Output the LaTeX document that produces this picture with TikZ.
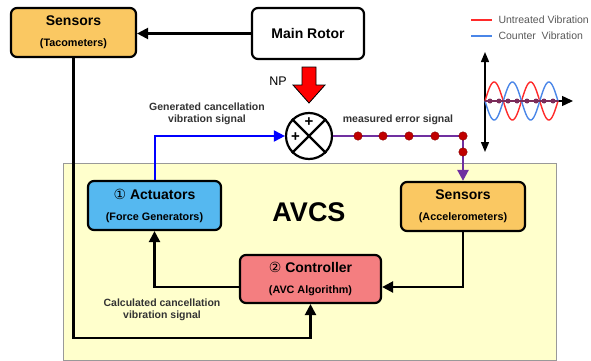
\documentclass[tikz,border=0pt]{standalone}
\usepackage{fontspec}
\setmainfont{Liberation Sans}
\newfontfamily\dvs{DejaVu Sans}
\usetikzlibrary{arrows.meta,calc}
\definecolor{tacfill}{HTML}{FAC862}
\definecolor{actfill}{HTML}{55B8F0}
\definecolor{ctrlfill}{HTML}{F47E80}
\definecolor{bgyellow}{HTML}{FFFFCC}
\definecolor{lblgray}{HTML}{333333}
\definecolor{errpurple}{HTML}{7030A0}
\definecolor{dotred}{HTML}{C00000}
\definecolor{wavedot}{HTML}{7B2C5A}
\definecolor{wavered}{HTML}{FF2A2A}
\definecolor{waveblue}{HTML}{4A86E8}
\begin{document}
\begin{tikzpicture}[x=1pt,y=-1pt,
  box/.style={draw=black, line width=2.2pt, rounded corners=6pt, align=center, inner sep=0pt,
    font=\fontsize{10.8}{21}\selectfont\bfseries},
  conn/.style={line width=2.3pt, -{Triangle[length=11pt,width=11pt]}},
  lbl/.style={align=center, text=lblgray, font=\fontsize{10.5}{12.5}\selectfont\bfseries},
  edot/.style={circle, fill=dotred, draw=dotred!70!black, line width=0.4pt, minimum size=8.5pt, inner sep=0pt},
  wdot/.style={circle, fill=wavedot, minimum size=5pt, inner sep=0pt}
]
\useasboundingbox (0,0) rectangle (591,361);
\fill[white] (0,0) rectangle (591,361);

% AVCS background
\node[draw=gray!80, line width=0.8pt, fill=bgyellow, minimum width=493pt, minimum height=197pt, inner sep=0pt] (avcs) at (309.5,261.5) {};
\node[font=\fontsize{27}{27}\selectfont\bfseries] (avcslbl) at (309,212) {AVCS};

% boxes
\node[box, fill=tacfill, minimum width=125pt, minimum height=49pt] (tac) at (73.5,32.5)
  {{\fontsize{14}{14}\selectfont Sensors}\\(Tacometers)};
\node[box, fill=white, minimum width=112pt, minimum height=51pt] (rotor) at (308,33.5)
  {{\fontsize{14}{14}\selectfont Main Rotor}};
\node[box, fill=actfill, minimum width=133pt, minimum height=49pt] (act) at (154.5,205.5)
  {{\fontsize{14}{14}\selectfont{\dvs\mdseries ①} Actuators}\\(Force Generators)};
\node[box, fill=ctrlfill, minimum width=141pt, minimum height=48pt] (ctrl) at (310.5,279)
  {{\fontsize{14}{14}\selectfont{\dvs\mdseries ②} Controller}\\(AVC Algorithm)};
\node[box, fill=tacfill, minimum width=124pt, minimum height=49pt] (sacc) at (463,206.5)
  {{\fontsize{14}{14}\selectfont Sensors}\\(Accelerometers)};

% summing junction
\node[circle, draw=black, fill=white, line width=2.2pt, minimum size=46pt, inner sep=0pt] (sum) at (309,136) {};
\draw[line width=2.2pt] (sum.45) -- (sum.225) (sum.135) -- (sum.-45);
\node[font=\fontsize{15}{15}\selectfont\bfseries] (plustop) at (309,122.5) {+};
\node[font=\fontsize{15}{15}\selectfont\bfseries] (plusleft) at (295.5,137.5) {+};

% NP arrow
\fill[red, draw=black, line width=0.8pt] (302,67) -- (316,67) -- (316,85) -- (325,85) -- (309,103) -- (293,85) -- (302,85) -- cycle;
\node[font=\fontsize{12.5}{12.5}\selectfont] (np) at (278,81) {NP};

% connectors
\draw[conn] (rotor.west) -- (rotor.west -| tac.east);
\coordinate (c1) at (73.5,338);
\draw[conn] (tac.south) -- (c1) -| (ctrl.south);
\draw[conn, color=blue, line width=2pt] (act.north) |- (sum.west);
\draw[conn, color=errpurple, line width=2.5pt] (sum.east) -| (sacc.north);
\draw[conn] (sacc.south) |- ([yshift=-8pt]ctrl.east);
\draw[conn] ([yshift=-8pt]ctrl.west) -| (act.south);

% error dots
\foreach \i/\xx in {1/358,2/383,3/409,4/435,5/463}{
  \node[edot] (ed\i) at (\xx,136) {};
}
\node[edot] (ed6) at (463,152) {};

% labels
\node[lbl] (lblgen) at (207,114) {Generated cancellation\\vibration signal};
\node[lbl] (lblerr) at (398,120) {measured error signal};
\node[lbl] (lblcalc) at (162,310) {Calculated cancellation\\vibration signal};

% legend
\draw[wavered, line width=1.6pt] (471,20) -- (492,20);
\draw[waveblue, line width=1.6pt] (471,36) -- (492,36);
\node[anchor=west, text=black!65, font=\fontsize{10.5}{10.5}\selectfont] (leg1) at (495,20) {Untreated Vibration};
\node[anchor=west, text=black!65, font=\fontsize{10.5}{10.5}\selectfont] (leg2) at (495,36) {Counter\ \ Vibration};

% wave plot
\draw[line width=1.4pt, {Triangle[length=10pt,width=8pt]}-{Triangle[length=10pt,width=8pt]}] (485,52) -- (485,152);
\draw[line width=1.4pt, -{Triangle[length=11pt,width=10pt]}] (485,101) -- (573,101);
\draw[wavered, line width=1.4pt, domain=0:73, samples=120, smooth] plot ({485+\x},{101-19*sin(\x*9.863)});
\draw[waveblue, line width=1.4pt, domain=0:73, samples=120, smooth] plot ({485+\x},{101+19*sin(\x*9.863)});
\draw[wavedot, line width=1.6pt] (485,101) -- (558,101);
\foreach \i/\xx in {1/490,2/499,3/508,4/517,5/527,6/536,7/544,8/553}{
  \node[wdot] (wd\i) at (\xx,101) {};
}
\end{tikzpicture}
\end{document}
